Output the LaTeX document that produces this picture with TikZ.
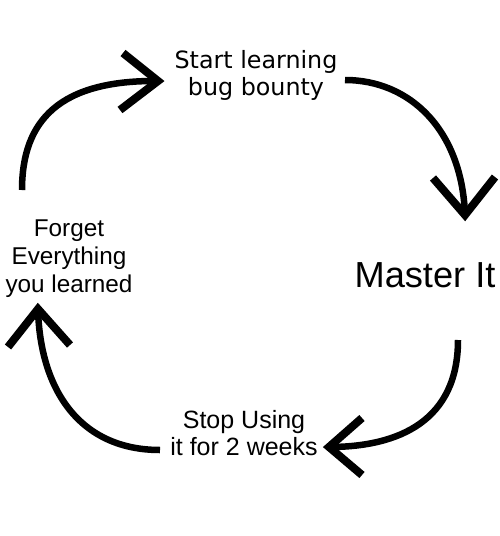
\documentclass[tikz,border=0pt]{standalone}
\usepackage{fontspec}
\setmainfont{Liberation Sans}
\newfontfamily\dejavu{DejaVu Sans}
\begin{document}
\begin{tikzpicture}[x=1pt,y=-1pt,
  shaft/.style={line width=6.5pt, line cap=butt},
  head/.style={line width=8pt, line cap=butt, line join=miter, miter limit=20},
  lbl/.style={inner sep=0pt, align=center, text=black}]
\useasboundingbox[fill=white] (0,0) rectangle (500,536);

% labels
\node[lbl, font=\dejavu\fontsize{23.8}{27.5}\selectfont] (start) at (256,75.5) {Start learning\\bug bounty};
\node[lbl, font=\fontsize{36.2}{40}\selectfont, anchor=base] (master) at (425,287) {Master It};
\node[lbl, font=\fontsize{25}{27.5}\selectfont] (stop) at (244,433) {Stop Using\\it for 2 weeks};
\node[lbl, font=\fontsize{24.3}{27.8}\selectfont] (forget) at (69,258.5) {Forget\\Everything\\you learned};

% arrow 1: forget -> start
\coordinate (a1s) at (22,190);
\coordinate (a1t) at (158,81);
\coordinate (a1u) at (123,53);
\coordinate (a1d) at (120,110);
\draw[shaft] (a1s) .. controls (22,120) and (60,80) .. (a1t);
\draw[head] (a1u) -- (a1t) -- (a1d);

% arrow 2: start -> master
\coordinate (a2s) at (345,80);
\coordinate (a2t) at (465,215);
\coordinate (a2l) at (433,178);
\coordinate (a2r) at (495,177);
\draw[shaft] (a2s) .. controls (410,80) and (462,130) .. (a2t);
\draw[head] (a2l) -- (a2t) -- (a2r);

% arrow 3: master -> stop
\coordinate (a3s) at (458,340);
\coordinate (a3t) at (329,447);
\coordinate (a3u) at (362,418);
\coordinate (a3d) at (362,475);
\draw[shaft] (a3s) .. controls (458,420) and (400,447) .. (a3t);
\draw[head] (a3u) -- (a3t) -- (a3d);

% arrow 4: stop -> forget
\coordinate (a4s) at (160,450);
\coordinate (a4t) at (38,309);
\coordinate (a4l) at (8,347);
\coordinate (a4r) at (70,345);
\draw[shaft] (a4s) .. controls (80,450) and (40,390) .. (a4t);
\draw[head] (a4l) -- (a4t) -- (a4r);
\end{tikzpicture}
\end{document}
